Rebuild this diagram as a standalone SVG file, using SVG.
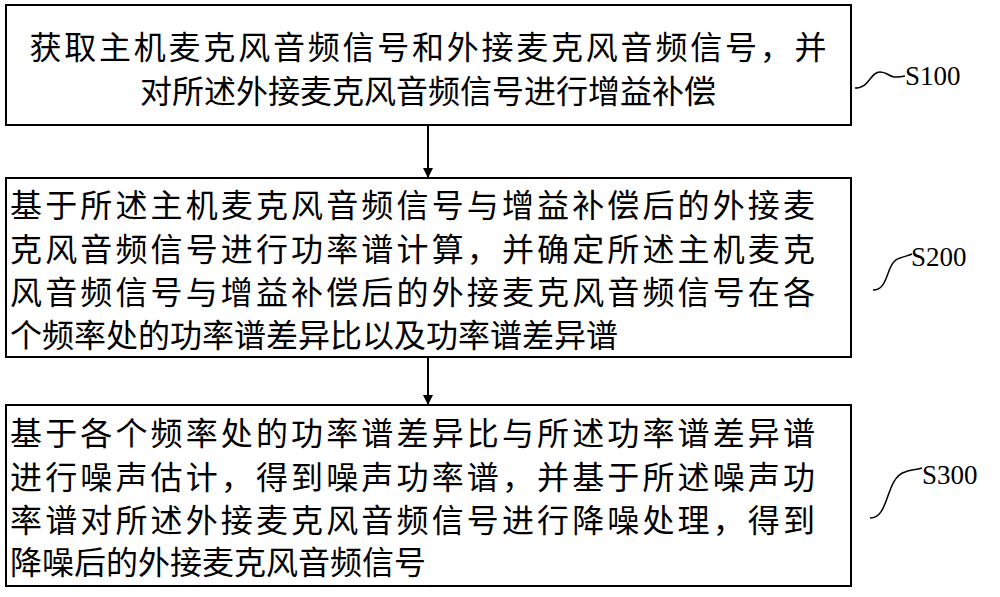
<svg xmlns="http://www.w3.org/2000/svg" width="1000" height="597" viewBox="0 0 1000 597">
<style>
.box{fill:#fff;stroke:#000;stroke-width:2}
.t{font-family:"Noto Sans CJK SC",sans-serif;font-size:32px;fill:#000}
.lbl{font-family:"Liberation Serif",serif;font-size:27px;fill:#000}
.c{fill:none;stroke:#000;stroke-width:2}
.sq{fill:none;stroke:#000;stroke-width:1.5}
</style>
<defs><marker id="ah" markerWidth="10" markerHeight="10" refX="9" refY="5" orient="auto" markerUnits="userSpaceOnUse"><path d="M0,0 L10,5 L0,10 z" fill="#000"/></marker></defs>
<rect width="1000" height="597" fill="#fff"/>
<g id="s100">
<rect class="box" x="6" y="5" width="845" height="120"/>
<text class="t" x="428" y="59" text-anchor="middle" textLength="797">获取主机麦克风音频信号和外接麦克风音频信号，并</text>
<text class="t" x="428" y="103" text-anchor="middle">对所述外接麦克风音频信号进行增益补偿</text>
</g>
<g id="s200">
<rect class="box" x="6" y="178" width="845" height="179"/>
<text class="t" x="10" y="217" textLength="805">基于所述主机麦克风音频信号与增益补偿后的外接麦</text>
<text class="t" x="10" y="261" textLength="805">克风音频信号进行功率谱计算，并确定所述主机麦克</text>
<text class="t" x="10" y="304" textLength="805">风音频信号与增益补偿后的外接麦克风音频信号在各</text>
<text class="t" x="10" y="347">个频率处的功率谱差异比以及功率谱差异谱</text>
</g>
<g id="s300">
<rect class="box" x="6" y="405" width="845" height="181"/>
<text class="t" x="10" y="445" textLength="805">基于各个频率处的功率谱差异比与所述功率谱差异谱</text>
<text class="t" x="10" y="489" textLength="805">进行噪声估计，得到噪声功率谱，并基于所述噪声功</text>
<text class="t" x="10" y="532" textLength="805">率谱对所述外接麦克风音频信号进行降噪处理，得到</text>
<text class="t" x="10" y="574">降噪后的外接麦克风音频信号</text>
</g>
<g id="connectors">
<line class="c" x1="428" y1="125" x2="428" y2="177" marker-end="url(#ah)"/>
<line class="c" x1="428" y1="357" x2="428" y2="404" marker-end="url(#ah)"/>
<path class="sq" d="M855,88 C870,88 870,72 880,72 C890,72 888,80 905,76"/>
<path class="sq" d="M873,290 C890,290 885,262 900,258 C905,256 908,256 912,254"/>
<path class="sq" d="M870,518 C890,518 885,478 905,472 C910,470 915,470 922,468"/>
<text class="lbl" x="905" y="85">S100</text>
<text class="lbl" x="911" y="266">S200</text>
<text class="lbl" x="922" y="484">S300</text>
</g>
</svg>
